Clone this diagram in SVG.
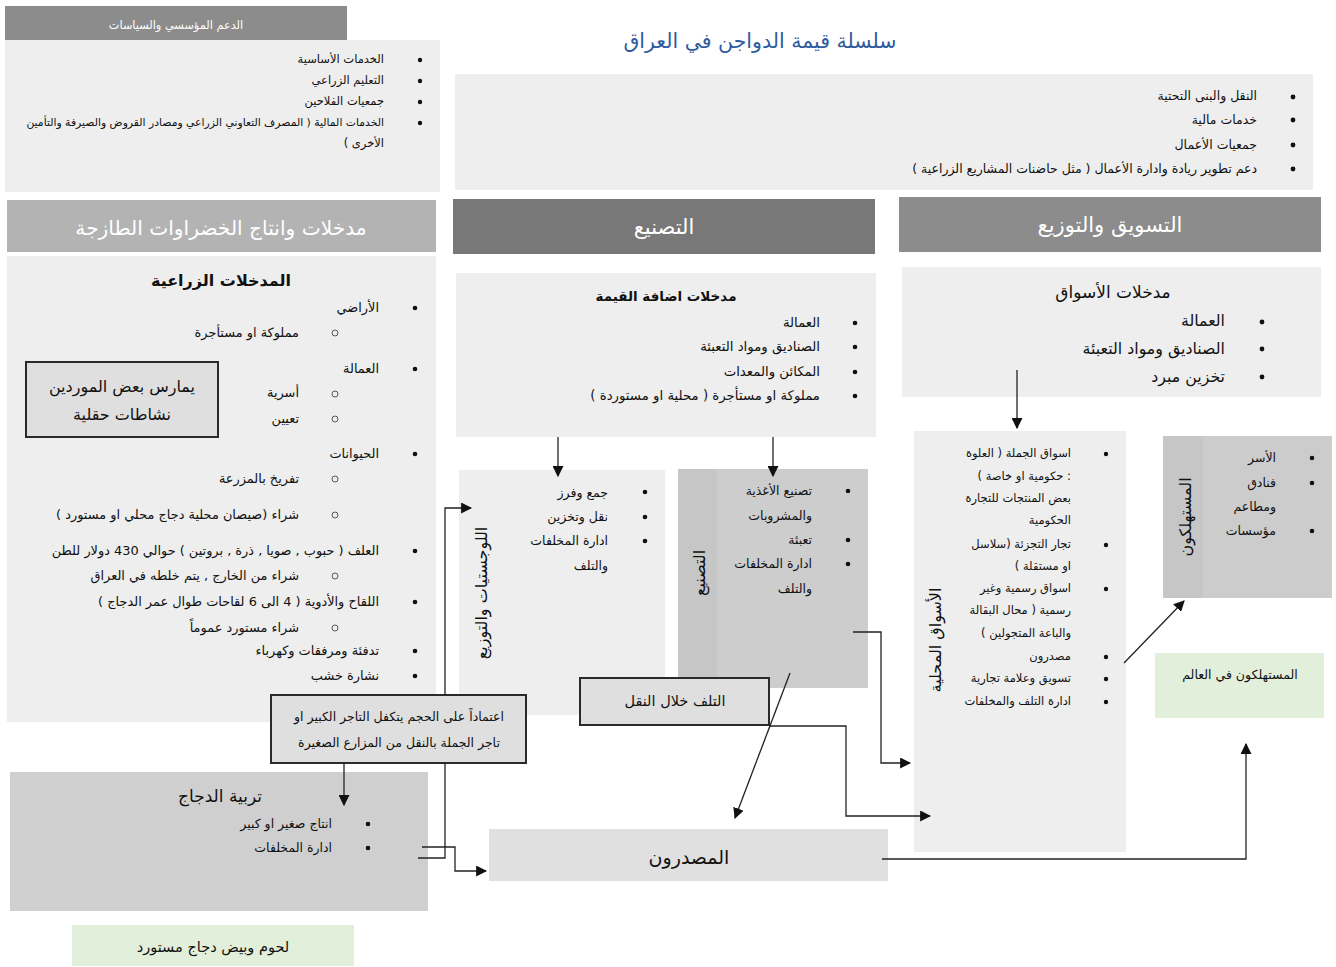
<svg xmlns="http://www.w3.org/2000/svg" width="1336" height="967" viewBox="0 0 1336 967">
<defs>
<style>
text{font-family:"DejaVu Sans","Noto Sans",sans-serif;direction:rtl;unicode-bidi:embed;fill:#111;}
.t12{font-size:11.5px;}
.t13{font-size:12.5px;}
.t14{font-size:12.9px;}
.t15{font-size:14.5px;}
.hdr{font-size:21px;fill:#fff;}
.bul{fill:#111;}
.sub{fill:none;stroke:#333;stroke-width:0.8;}
.pan{fill:#eeeeee;}
.con{fill:none;stroke:#222;stroke-width:1.3;}
.note{fill:#dfdfdf;stroke:#2a2a2a;stroke-width:2;}
.green{fill:#e2efda;}
</style>
<marker id="ah" viewBox="0 0 10 10" refX="9" refY="5" markerWidth="11" markerHeight="11" markerUnits="userSpaceOnUse" orient="auto">
<path d="M0,0 L10,5 L0,10 z" fill="#111"/>
</marker>
</defs>
<rect width="1336" height="967" fill="#ffffff"/>

<!-- Title -->
<g id="title">
<text x="760" y="48" text-anchor="middle" style="font-size:20.5px;fill:#2f5b9e;">سلسلة قيمة الدواجن في العراق</text>
</g>

<!-- Institutional support -->
<g id="support">
<rect x="5" y="40" width="435" height="152" class="pan"/>
<rect x="5" y="6" width="342" height="34" fill="#8c8c8c"/>
<text x="176" y="29" text-anchor="middle" style="font-size:11.3px;fill:#fff;">الدعم المؤسسي والسياسات</text>
<circle cx="420" cy="60" r="2.2" class="bul"/>
<circle cx="420" cy="81" r="2.2" class="bul"/>
<circle cx="420" cy="102" r="2.2" class="bul"/>
<circle cx="420" cy="123" r="2.2" class="bul"/>
<text x="384" y="63" class="t12">الخدمات الأساسية</text>
<text x="384" y="84" class="t12">التعليم الزراعي</text>
<text x="384" y="105" class="t12">جمعيات الفلاحين</text>
<text x="384" y="126" style="font-size:10.8px;">الخدمات المالية ( المصرف التعاوني الزراعي ومصادر القروض والصيرفة والتأمين</text>
<text x="384" y="147" class="t12">الأخرى )</text>
</g>

<!-- Top right services -->
<g id="services">
<rect x="455" y="74" width="858" height="116" class="pan"/>
<circle cx="1293" cy="97" r="2.4" class="bul"/>
<circle cx="1293" cy="120" r="2.4" class="bul"/>
<circle cx="1293" cy="145" r="2.4" class="bul"/>
<circle cx="1293" cy="169" r="2.4" class="bul"/>
<text x="1257" y="100" class="t13">النقل والبنى التحتية</text>
<text x="1257" y="124" class="t13">خدمات مالية</text>
<text x="1257" y="149" class="t13">جمعيات الأعمال</text>
<text x="1257" y="173" class="t13">دعم تطوير ريادة وادارة الأعمال ( مثل حاضنات المشاريع الزراعية )</text>
</g>

<!-- Left column -->
<g id="inputs-header">
<rect x="7" y="200" width="429" height="52" fill="#b3b3b3"/>
<text x="221" y="235" text-anchor="middle" style="font-size:20.2px;fill:#fff;">مدخلات وانتاج الخضراوات الطازجة</text>
</g>
<g id="farm-inputs">
<rect x="7" y="256" width="429" height="466" class="pan"/>
<text x="221" y="286" text-anchor="middle" style="font-size:16px;font-weight:bold;">المدخلات الزراعية</text>
<circle cx="415" cy="308" r="2.3" class="bul"/>
<text x="379" y="312" class="t14">الأراضي</text>
<circle cx="335" cy="333" r="3" class="sub"/>
<text x="299" y="337" class="t14">مملوكة او مستأجرة</text>
<circle cx="415" cy="369" r="2.3" class="bul"/>
<text x="379" y="373" class="t14">العمالة</text>
<circle cx="335" cy="394" r="3" class="sub"/>
<text x="299" y="397" class="t14">أسرية</text>
<circle cx="335" cy="419" r="3" class="sub"/>
<text x="299" y="423" class="t14">تعيين</text>
<circle cx="415" cy="454" r="2.3" class="bul"/>
<text x="379" y="458" class="t14">الحيوانات</text>
<circle cx="335" cy="479" r="3" class="sub"/>
<text x="299" y="483" class="t14">تفريخ بالمزرعة</text>
<circle cx="335" cy="515" r="3" class="sub"/>
<text x="299" y="519" class="t14">شراء (صيصان محلية دجاج محلي او  مستورد )</text>
<circle cx="415" cy="551" r="2.3" class="bul"/>
<text x="379" y="555" class="t14">العلف ( حبوب , صويا , ذرة , بروتين ) حوالي 430 دولار للطن</text>
<circle cx="335" cy="576" r="3" class="sub"/>
<text x="299" y="580" class="t14">شراء من الخارج , يتم خلطه في العراق</text>
<circle cx="415" cy="602" r="2.3" class="bul"/>
<text x="379" y="606" class="t14">اللقاح والأدوية ( 4 الى 6 لقاحات طوال عمر الدجاج )</text>
<circle cx="335" cy="628" r="3" class="sub"/>
<text x="299" y="632" class="t14">شراء مستورد عموماً</text>
<circle cx="415" cy="651" r="2.3" class="bul"/>
<text x="379" y="655" class="t14">تدفئة ومرفقات وكهرباء</text>
<circle cx="415" cy="676" r="2.3" class="bul"/>
<text x="379" y="680" class="t14">نشارة خشب</text>
</g>
<g id="suppliers-note">
<rect x="26" y="362" width="192" height="75" class="note"/>
<text x="122" y="392" text-anchor="middle" style="font-size:16px;">يمارس بعض الموردين</text>
<text x="122" y="420" text-anchor="middle" style="font-size:16px;">نشاطات حقلية</text>
</g>

<!-- Middle column -->
<g id="manufacturing-header">
<rect x="453" y="199" width="422" height="55" fill="#787878"/>
<text x="664" y="234" text-anchor="middle" class="hdr">التصنيع</text>
</g>
<g id="value-inputs">
<rect x="456" y="273" width="420" height="164" class="pan"/>
<text x="666" y="301" text-anchor="middle" style="font-size:13.5px;font-weight:bold;">مدخلات اضافة القيمة</text>
<circle cx="855" cy="323" r="2.3" class="bul"/>
<circle cx="855" cy="347" r="2.3" class="bul"/>
<circle cx="855" cy="372" r="2.3" class="bul"/>
<circle cx="855" cy="396" r="2.3" class="bul"/>
<text x="820" y="327" style="font-size:13.3px;">العمالة</text>
<text x="820" y="351" style="font-size:13.3px;">الصناديق ومواد التعبئة</text>
<text x="820" y="376" style="font-size:13.3px;">المكائن والمعدات</text>
<text x="820" y="400" style="font-size:13.3px;">مملوكة او مستأجرة ( محلية او مستوردة )</text>
</g>
<g id="logistics">
<rect x="459" y="470" width="206" height="245" class="pan"/>
<text transform="translate(487,593) rotate(-90)" text-anchor="middle" style="font-size:16px;">اللوجستيات والتوزيع</text>
<circle cx="645" cy="492" r="2.3" class="bul"/>
<circle cx="645" cy="517" r="2.3" class="bul"/>
<circle cx="645" cy="541" r="2.3" class="bul"/>
<text x="608" y="497" class="t13">جمع وفرز</text>
<text x="608" y="521" class="t13">نقل وتخزين</text>
<text x="608" y="545" class="t13">ادارة المخلفات</text>
<text x="608" y="570" class="t13">والتلف</text>
</g>
<g id="processing">
<rect x="678" y="469" width="190" height="219" fill="#cdcdcd"/>
<rect x="678" y="469" width="39" height="219" fill="#c6c6c6"/>
<text transform="translate(705,573) rotate(-90)" text-anchor="middle" style="font-size:16px;">التصنيع</text>
<circle cx="848" cy="491" r="2.3" class="bul"/>
<circle cx="848" cy="540" r="2.3" class="bul"/>
<circle cx="848" cy="564" r="2.3" class="bul"/>
<text x="812" y="495" class="t13">تصنيع الأغذية</text>
<text x="812" y="520" class="t13">والمشروبات</text>
<text x="812" y="544" class="t13">تعبئة</text>
<text x="812" y="568" class="t13">ادارة المخلفات</text>
<text x="812" y="593" class="t13">والتلف</text>
</g>
<g id="transport-loss">
<rect x="580" y="678" width="189" height="47" class="note"/>
<text x="675" y="706" text-anchor="middle" class="t15">التلف خلال النقل</text>
</g>
<g id="dealer-note">
<rect x="271" y="695" width="255" height="68" class="note"/>
<text x="399" y="721" text-anchor="middle" class="t13">اعتماداً على الحجم يتكفل التاجر الكبير او</text>
<text x="399" y="747" text-anchor="middle" class="t13">تاجر الجملة بالنقل من المزارع الصغيرة</text>
</g>
<g id="chicken">
<rect x="10" y="772" width="418" height="139" fill="#d0cfd0"/>
<text x="262" y="802" style="font-size:17px;">تربية الدجاج</text>
<circle cx="368" cy="824" r="2.3" class="bul"/>
<circle cx="368" cy="848" r="2.3" class="bul"/>
<text x="332" y="828" class="t13">انتاج صغير او كبير</text>
<text x="332" y="852" class="t13">ادارة المخلفات</text>
</g>
<g id="imported">
<rect x="72" y="925" width="282" height="41" class="green"/>
<text x="213" y="952" text-anchor="middle" class="t15">لحوم وبيض دجاج مستورد</text>
</g>
<g id="exporters">
<rect x="489" y="829" width="399" height="52" fill="#e0e0e0"/>
<text x="689" y="864" text-anchor="middle" style="font-size:19px;">المصدرون</text>
</g>

<!-- Right column -->
<g id="marketing-header">
<rect x="899" y="197" width="422" height="55" fill="#8c8c8c"/>
<text x="1110" y="232" text-anchor="middle" class="hdr">التسويق والتوزيع</text>
</g>
<g id="market-inputs">
<rect x="902" y="267" width="419" height="130" class="pan"/>
<text x="1113" y="298" text-anchor="middle" style="font-size:17px;">مدخلات الأسواق</text>
<circle cx="1262" cy="322" r="2.4" class="bul"/>
<circle cx="1262" cy="349" r="2.4" class="bul"/>
<circle cx="1262" cy="377" r="2.4" class="bul"/>
<text x="1225" y="326" style="font-size:15.8px;">العمالة</text>
<text x="1225" y="354" style="font-size:15.8px;">الصناديق ومواد التعبئة</text>
<text x="1225" y="382" style="font-size:15.8px;">تخزين مبرد</text>
</g>
<g id="local-markets">
<rect x="914" y="431" width="212" height="421" class="pan"/>
<text transform="translate(941,640) rotate(-90)" text-anchor="middle" style="font-size:16px;">الأسواق المحلية</text>
<circle cx="1106" cy="454" r="2.2" class="bul"/>
<circle cx="1106" cy="545" r="2.2" class="bul"/>
<circle cx="1106" cy="589" r="2.2" class="bul"/>
<circle cx="1106" cy="657" r="2.2" class="bul"/>
<circle cx="1106" cy="679" r="2.2" class="bul"/>
<circle cx="1106" cy="702" r="2.2" class="bul"/>
<text x="1071" y="457" class="t12">اسواق الجملة ( العلوة</text>
<text x="1071" y="480" class="t12">: حكومية او خاصة )</text>
<text x="1071" y="502" class="t12">بعض المنتجات للتجارة</text>
<text x="1071" y="524" class="t12">الحكومية</text>
<text x="1071" y="548" class="t12">تجار التجزئة (سلاسل</text>
<text x="1071" y="570" class="t12">او مستقلة )</text>
<text x="1071" y="592" class="t12">اسواق رسمية وغير</text>
<text x="1071" y="614" class="t12">رسمية ( محال البقالة</text>
<text x="1071" y="637" class="t12">والباعة المتجولين )</text>
<text x="1071" y="660" class="t12">مصدرون</text>
<text x="1071" y="682" class="t12">تسويق وعلامة تجارية</text>
<text x="1071" y="705" class="t12">ادارة التلف والمخلفات</text>
</g>
<g id="consumers">
<rect x="1163" y="436" width="169" height="162" fill="#cccccc"/>
<rect x="1163" y="436" width="40" height="162" fill="#c6c6c6"/>
<text transform="translate(1191,517) rotate(-90)" text-anchor="middle" style="font-size:16px;">المستهلكون</text>
<circle cx="1312" cy="458" r="2.3" class="bul"/>
<circle cx="1312" cy="483" r="2.3" class="bul"/>
<circle cx="1312" cy="531" r="2.3" class="bul"/>
<text x="1276" y="462" class="t13">الأسر</text>
<text x="1276" y="487" class="t13">فنادق</text>
<text x="1276" y="511" class="t13">ومطاعم</text>
<text x="1276" y="535" class="t13">مؤسسات</text>
</g>
<g id="world-consumers">
<rect x="1155" y="653" width="169" height="65" class="green"/>
<text x="1240" y="679" text-anchor="middle" class="t13">المستهلكون في العالم</text>
</g>

<!-- Connectors -->
<g id="connectors">
<path class="con" d="M558,437 V476" marker-end="url(#ah)"/>
<path class="con" d="M773,437 V476" marker-end="url(#ah)"/>
<path class="con" d="M1017,370 V428" marker-end="url(#ah)"/>
<path class="con" d="M445,695 V508 H471" marker-end="url(#ah)"/>
<path class="con" d="M445,763 V858 H418"/>
<path class="con" d="M422,847 H455 V871 H486" marker-end="url(#ah)"/>
<path class="con" d="M344,763 V805" marker-end="url(#ah)"/>
<path class="con" d="M790,673 L735,818" marker-end="url(#ah)"/>
<path class="con" d="M769,726 H846 V816 H930" marker-end="url(#ah)"/>
<path class="con" d="M853,632 H881 V763 H910" marker-end="url(#ah)"/>
<path class="con" d="M882,859 H1246 V744" marker-end="url(#ah)"/>
<path class="con" d="M1124,663 L1184,601" marker-end="url(#ah)"/>
</g>
</svg>
